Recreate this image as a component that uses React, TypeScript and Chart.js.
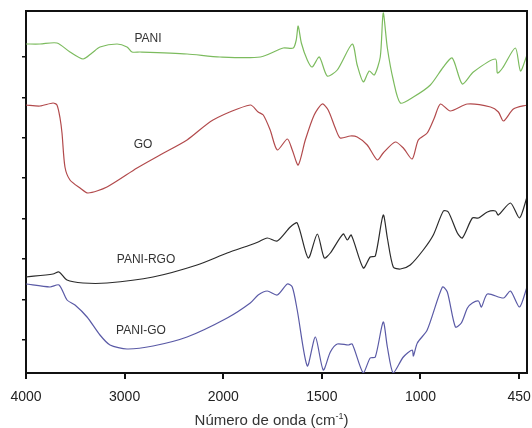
import { useEffect, useRef } from "react";
import { Chart, registerables } from "chart.js";

Chart.register(...registerables);

// x tick labels (axis has a scale change at 2000 cm-1)
const tickLabels = ["4000", "3000", "2000", "1500", "1000", "450"];
const xTickUnits = [0, 1, 2, 3, 4, 5];
const yTickValues = [33, 73, 114, 154, 195, 235, 275, 316];

const seriesNames = ["PANI", "GO", "PANI-RGO", "PANI-GO"];

// [wavenumber (cm-1), transmittance (arb. units, offset)]
const pani: [number, number][] = [
  [4000, 329], [3858, 329], [3686, 330], [3554, 321], [3422, 314], [3331, 320], [3250, 326],
  [3077, 329], [2976, 326], [2925, 321], [2844, 321], [2367, 319], [2033, 316], [1812, 316],
  [1696, 325], [1645, 325], [1630, 333], [1620, 347], [1604, 330], [1574, 313], [1549, 306],
  [1513, 316], [1473, 297], [1422, 303], [1346, 329], [1321, 308], [1290, 291], [1260, 302],
  [1234, 298], [1204, 316], [1189, 360], [1168, 325], [1138, 293], [1102, 270], [1036, 276],
  [950, 288], [884, 306], [839, 315], [788, 289], [732, 301], [620, 314], [610, 300],
  [584, 305], [519, 325], [493, 302], [460, 318],
];

const go: [number, number][] = [
  [4000, 268], [3858, 267], [3726, 270], [3686, 268], [3655, 255], [3635, 240], [3605, 206],
  [3554, 193], [3452, 185], [3371, 180], [3179, 186], [2874, 205], [2641, 218], [2367, 233],
  [2104, 253], [1863, 268], [1823, 261], [1797, 258], [1762, 243], [1726, 223], [1675, 234],
  [1650, 223], [1620, 208], [1584, 233], [1539, 258], [1498, 269], [1468, 263], [1432, 245],
  [1407, 235], [1356, 237], [1321, 236], [1270, 228], [1219, 213], [1189, 220], [1128, 231],
  [1087, 225], [1042, 214], [1011, 233], [966, 240], [930, 255], [899, 269], [849, 262],
  [762, 269], [645, 266], [605, 261], [579, 252], [529, 264], [460, 268],
];

const paniRgo: [number, number][] = [
  [4000, 96], [3726, 99], [3665, 101], [3584, 93], [3422, 90], [3179, 90], [2712, 96],
  [2266, 108], [1980, 120], [1863, 128], [1823, 131], [1777, 135], [1726, 132], [1660, 146],
  [1625, 150], [1569, 115], [1523, 139], [1488, 115], [1457, 120], [1392, 139], [1371, 133],
  [1351, 138], [1290, 105], [1255, 116], [1229, 117], [1189, 158], [1168, 135], [1138, 106],
  [1102, 104], [1052, 108], [986, 123], [935, 138], [884, 162], [859, 161], [813, 140],
  [788, 135], [737, 155], [706, 155], [661, 161], [620, 162], [605, 158], [544, 170],
  [498, 155], [460, 176],
];

const paniGo: [number, number][] = [
  [4000, 89], [3757, 86], [3665, 88], [3584, 73], [3503, 68], [3381, 56], [3250, 38],
  [3148, 28], [2976, 24], [2712, 27], [2367, 36], [1980, 55], [1863, 70], [1823, 78],
  [1777, 82], [1726, 78], [1675, 89], [1650, 86], [1625, 63], [1574, 7], [1533, 36],
  [1493, 3], [1457, 21], [1422, 29], [1366, 28], [1346, 29], [1290, 0], [1255, 15],
  [1229, 16], [1189, 51], [1168, 26], [1138, 0], [1087, 16], [1042, 23], [1036, 17],
  [1016, 30], [966, 43], [889, 86], [864, 81], [823, 46], [793, 50], [762, 65], [737, 70],
  [706, 72], [691, 66], [661, 79], [579, 75], [544, 82], [498, 66], [460, 86],
];

const seriesData = [pani, go, paniRgo, paniGo];
const seriesColors = ["#7cbb5e", "#b24a4c", "#2b2b2b", "#5a5aa6"];
// label anchor [wavenumber, value]
const labelAnchors: [number, number][] = [
  [2763, 334], [2814, 228], [2783, 113], [2834, 42],
];

// piecewise axis: 4000-2000 at 1000 per unit, 2000-450 at 500 per unit
const toU = (w: number) => (w >= 2000 ? (4000 - w) / 1000 : 2 + (2000 - w) / 500);

const FONT = "'Liberation Sans', Arial, sans-serif";

export default function App() {
  const ref = useRef<HTMLCanvasElement | null>(null);

  useEffect(() => {
    if (!ref.current) return;

    const framePlugin = {
      id: "frame",
      afterDraw(chart: any) {
        const { ctx, chartArea: a, scales } = chart;
        ctx.save();
        ctx.strokeStyle = "#111";
        ctx.lineWidth = 2;
        ctx.beginPath();
        ctx.moveTo(a.left, a.top);
        ctx.lineTo(a.right, a.top);
        ctx.lineTo(a.right, a.bottom);
        ctx.stroke();
        // series labels
        ctx.fillStyle = "#333";
        ctx.font = `12px ${FONT}`;
        ctx.textAlign = "center";
        ctx.textBaseline = "middle";
        labelAnchors.forEach(([w, v], i) => {
          ctx.fillText(seriesNames[i], scales.x.getPixelForValue(toU(w)), scales.y.getPixelForValue(v));
        });
        // axis title with superscript
        const cx = (a.left + a.right) / 2 - 5;
        const cy = 420;
        const main = "Número de onda (cm";
        const sup = "-1";
        const end = ")";
        ctx.font = `15px ${FONT}`;
        const wMain = ctx.measureText(main).width;
        const wEnd = ctx.measureText(end).width;
        ctx.font = `9px ${FONT}`;
        const wSup = ctx.measureText(sup).width;
        const total = wMain + wSup + wEnd;
        let x0 = cx - total / 2;
        ctx.textAlign = "left";
        ctx.textBaseline = "alphabetic";
        ctx.font = `15px ${FONT}`;
        ctx.fillText(main, x0, cy + 5);
        x0 += wMain;
        ctx.font = `9px ${FONT}`;
        ctx.fillText(sup, x0, cy - 1);
        x0 += wSup;
        ctx.font = `15px ${FONT}`;
        ctx.fillText(end, x0, cy + 5);
        ctx.restore();
      },
    };

    const chart = new Chart(ref.current, {
      type: "line",
      data: {
        datasets: seriesData.map((d, i) => ({
          label: seriesNames[i],
          data: d.map(([w, v]) => ({ x: toU(w), y: v })),
          borderColor: seriesColors[i],
          borderWidth: 1.2,
          pointRadius: 0,
          tension: 0.25,
          fill: false,
        })),
      },
      options: {
        responsive: false,
        animation: false,
        layout: { padding: { left: 22, right: 5, top: 11, bottom: 0 } },
        plugins: { legend: { display: false }, tooltip: { enabled: false } },
        scales: {
          x: {
            type: "linear",
            min: 0,
            max: toU(460),
            afterBuildTicks: (s: any) => {
              s.ticks = xTickUnits.map((v) => ({ value: v }));
            },
            afterFit: (s: any) => {
              s.height = 55;
              s.paddingLeft = 0;
              s.paddingRight = 0;
            },
            ticks: {
              autoSkip: false,
              maxRotation: 0,
              padding: 10,
              color: "#222",
              font: { family: FONT, size: 14 },
              callback: (_v: any, i: number) => tickLabels[i],
            },
            grid: { drawOnChartArea: false, drawTicks: true, tickLength: 6, color: "#111", lineWidth: 2 },
            border: { display: true, color: "#111", width: 2 },
          },
          y: {
            type: "linear",
            min: 0,
            max: 362,
            afterBuildTicks: (s: any) => {
              s.ticks = yTickValues.map((v) => ({ value: v }));
            },
            afterFit: (s: any) => {
              s.width = 4;
              s.paddingTop = 0;
              s.paddingBottom = 0;
            },
            ticks: { display: false },
            grid: { drawOnChartArea: false, drawTicks: true, tickLength: 4, color: "#111", lineWidth: 1.5 },
            border: { display: true, color: "#111", width: 2 },
          },
        },
      },
      plugins: [framePlugin],
    } as any);

    return () => chart.destroy();
  }, []);

  return (
    <div style={{ position: "absolute", left: 0, top: 0, width: 532, height: 428, background: "#fff" }}>
      <canvas ref={ref} width={532} height={428} style={{ display: "block" }} />
    </div>
  );
}
